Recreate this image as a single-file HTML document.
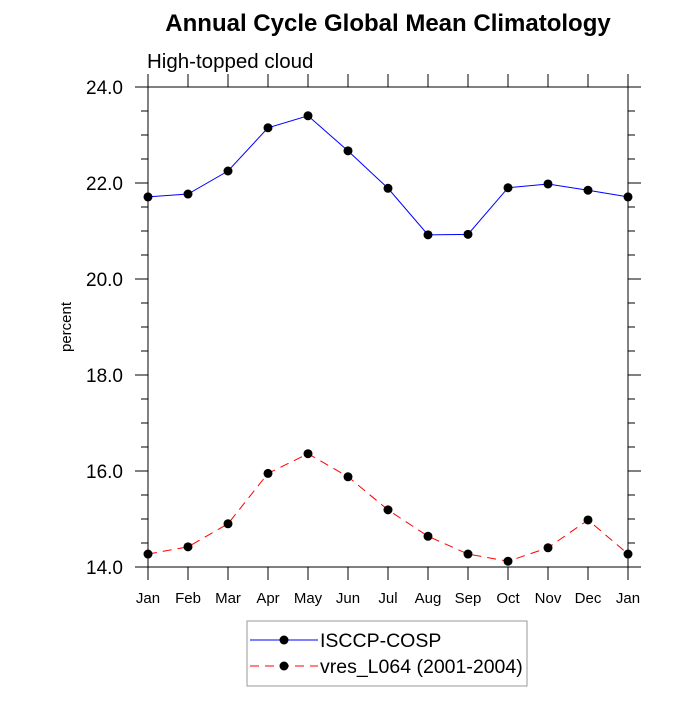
<!DOCTYPE html>
<html><head><meta charset="utf-8"><style>
body{margin:0;background:#fff}
svg text{font-family:"Liberation Sans",Arial,sans-serif}
</style></head><body>
<svg id="c" width="700" height="700" viewBox="0 0 700 700">
<text x="388" y="31" text-anchor="middle" font-size="24" font-weight="bold">Annual Cycle Global Mean Climatology</text>
<text x="147" y="68" font-size="20.5">High-topped cloud</text>
<text transform="translate(71,327) rotate(-90)" text-anchor="middle" font-size="15">percent</text>
<g id="axes"></g>
<g id="series"></g>
<g>
<rect x="247" y="621" width="280" height="65" fill="#fff" stroke="#999" stroke-width="1"/>
<g>
<line x1="250" y1="640" x2="318" y2="640" stroke="#0000ff" stroke-width="1"/>
<circle cx="284" cy="640" r="4.5" fill="#000"/>
<text x="320" y="647" font-size="19.5">ISCCP-COSP</text></g>
<g>
<line x1="250" y1="666" x2="318" y2="666" stroke="#ff0000" stroke-width="1" stroke-dasharray="9,6"/>
<circle cx="284" cy="666" r="4.5" fill="#000"/>
<text x="320" y="673" font-size="19.5">vres_L064 (2001-2004)</text></g>
</g>
</svg>
<script>
const months=["Jan","Feb","Mar","Apr","May","Jun","Jul","Aug","Sep","Oct","Nov","Dec","Jan"];
const isccp=[21.71,21.77,22.25,23.15,23.4,22.67,21.89,20.92,20.93,21.9,21.98,21.85,21.71];
const vres=[14.27,14.42,14.9,15.95,16.36,15.88,15.19,14.64,14.27,14.12,14.4,14.98,14.27];
const yTicks=[14,16,18,20,22,24];
const yTickLabels=["14.0","16.0","18.0","20.0","22.0","24.0"];
const X0=148,X1=628,Y0=87,Y1=567,YMIN=14,YMAX=24;
const ns="http://www.w3.org/2000/svg";
function xs(i){return X0+(X1-X0)*i/(months.length-1);}
function ys(v){return Y1-(v-YMIN)/(YMAX-YMIN)*(Y1-Y0);}
function mk(tag,attrs,parent){const e=document.createElementNS(ns,tag);for(const k in attrs)e.setAttribute(k,attrs[k]);parent.appendChild(e);return e;}
const ax=document.getElementById('axes');
const frame=mk('rect',{x:X0,y:Y0,width:X1-X0,height:Y1-Y0,fill:'none',stroke:'#000','stroke-width':1},ax);


for(let v=YMIN;v<=YMAX+1e-9;v+=0.5){
  const y=ys(v);const major=Math.abs(v-Math.round(v/2)*2)<1e-9;const L=major?13:7;
  mk('line',{x1:X0-L,y1:y,x2:X0,y2:y,stroke:'#000'},ax);
  mk('line',{x1:X1,y1:y,x2:X1+L,y2:y,stroke:'#000'},ax);
}
yTicks.forEach((v,i)=>{
  const t=mk('text',{x:X0-25,y:ys(v)+7,'text-anchor':'end','font-size':19},ax);
  t.textContent=yTickLabels[i];
  
  
});
months.forEach((m,i)=>{
  const x=xs(i);
  mk('line',{x1:x,y1:Y1,x2:x,y2:Y1+13,stroke:'#000'},ax);
  mk('line',{x1:x,y1:Y0-13,x2:x,y2:Y0,stroke:'#000'},ax);
  const t=mk('text',{x:x,y:603,'text-anchor':'middle','font-size':15},ax);
  t.textContent=m;
  
  
});
const sg=document.getElementById('series');
function series(data,color,dash,name){
  const g=mk('g',{},sg);
  
  
  const p=mk('polyline',{points:data.map((v,i)=>xs(i)+','+ys(v)).join(' '),fill:'none',stroke:color,'stroke-width':1},g);
  if(dash)p.setAttribute('stroke-dasharray',dash);
  data.forEach((v,i)=>{
    const c=mk('circle',{cx:xs(i),cy:ys(v),r:4.5,fill:'#000'},g);
    
    
  });
}
series(isccp,'#0000ff',null,'series-isccp-cosp');
series(vres,'#ff0000','9,6','series-vres-l064');
</script>
</body></html>
